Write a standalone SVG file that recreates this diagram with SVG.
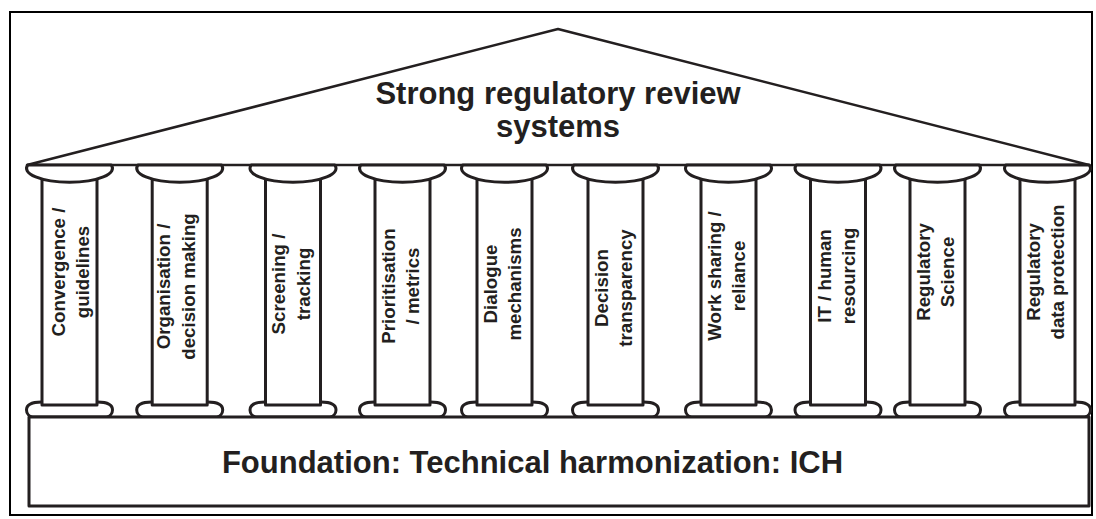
<svg xmlns="http://www.w3.org/2000/svg" width="1096" height="519" viewBox="0 0 1096 519">
<style>
.ln{fill:#fff;stroke:#231f20;stroke-width:3;stroke-linejoin:round}
.rf{fill:#fff;stroke:#231f20;stroke-width:2.5;stroke-linejoin:round}
.t{font-family:"Liberation Sans",Arial,sans-serif;font-weight:bold;fill:#231f20}
.c{font-size:18.7px}
.big{font-size:31px}
</style>
<defs>
<path id="base" class="ln" d="M-28,402 C-38,402 -43,405 -43,410 C-43,414 -40,416.5 -37,417 L37,417 C40,416.5 43,414 43,410 C43,405 38,402 28,402 Z"/>
<path id="cap" class="ln" d="M-41.8,165 A43,14 0 1 0 41.8,165 Z"/>
<rect id="shaft" class="ln" x="-27.5" y="172" width="55" height="233"/>
</defs>
<rect x="10" y="12" width="1082" height="503" fill="#fff" stroke="#000" stroke-width="2"/>
<g id="roof">
<polygon class="rf" points="27,165 558,29 1089,165"/>
<text class="t big" x="558" y="104" text-anchor="middle">Strong regulatory review</text>
<text class="t big" x="558" y="137" text-anchor="middle">systems</text>
</g>
<g id="col1" transform="translate(69.5,0)"><use href="#base"/><use href="#shaft"/><use href="#cap"/>
<text class="t c" text-anchor="middle" transform="translate(-4.5,272) rotate(-90)">Convergence /</text>
<text class="t c" text-anchor="middle" transform="translate(19,272) rotate(-90)">guidelines</text></g>
<g id="col2" transform="translate(179.7,0)"><use href="#base"/><use href="#shaft"/><use href="#cap"/>
<text class="t c" text-anchor="middle" transform="translate(-9.5,286.5) rotate(-90)">Organisation /</text>
<text class="t c" text-anchor="middle" transform="translate(15.5,286.5) rotate(-90)">decision making</text></g>
<g id="col3" transform="translate(293,0)"><use href="#base"/><use href="#shaft"/><use href="#cap"/>
<text class="t c" text-anchor="middle" transform="translate(-8,284) rotate(-90)">Screening /</text>
<text class="t c" text-anchor="middle" transform="translate(17,284) rotate(-90)">tracking</text></g>
<g id="col4" transform="translate(402.5,0)"><use href="#base"/><use href="#shaft"/><use href="#cap"/>
<text class="t c" text-anchor="middle" transform="translate(-7.5,286) rotate(-90)">Prioritisation</text>
<text class="t c" text-anchor="middle" transform="translate(16.5,286) rotate(-90)">/ metrics</text></g>
<g id="col5" transform="translate(504.5,0)"><use href="#base"/><use href="#shaft"/><use href="#cap"/>
<text class="t c" text-anchor="middle" transform="translate(-7.5,284) rotate(-90)">Dialogue</text>
<text class="t c" text-anchor="middle" transform="translate(16.5,284) rotate(-90)">mechanisms</text></g>
<g id="col6" transform="translate(615.5,0)"><use href="#base"/><use href="#shaft"/><use href="#cap"/>
<text class="t c" text-anchor="middle" transform="translate(-7.5,288) rotate(-90)">Decision</text>
<text class="t c" text-anchor="middle" transform="translate(16.5,288) rotate(-90)">transparency</text></g>
<g id="col7" transform="translate(728.5,0)"><use href="#base"/><use href="#shaft"/><use href="#cap"/>
<text class="t c" text-anchor="middle" transform="translate(-7.5,276) rotate(-90)">Work sharing /</text>
<text class="t c" text-anchor="middle" transform="translate(16.5,276) rotate(-90)">reliance</text></g>
<g id="col8" transform="translate(838,0)"><use href="#base"/><use href="#shaft"/><use href="#cap"/>
<text class="t c" text-anchor="middle" transform="translate(-7.5,276) rotate(-90)">IT / human</text>
<text class="t c" text-anchor="middle" transform="translate(16.5,276) rotate(-90)">resourcing</text></g>
<g id="col9" transform="translate(937.5,0)"><use href="#base"/><use href="#shaft"/><use href="#cap"/>
<text class="t c" text-anchor="middle" transform="translate(-7.5,272) rotate(-90)">Regulatory</text>
<text class="t c" text-anchor="middle" transform="translate(16.5,272) rotate(-90)">Science</text></g>
<g id="col10" transform="translate(1047.5,0)"><use href="#base"/><use href="#shaft"/><use href="#cap"/>
<text class="t c" text-anchor="middle" transform="translate(-7.5,272) rotate(-90)">Regulatory</text>
<text class="t c" text-anchor="middle" transform="translate(16.5,272) rotate(-90)">data protection</text></g>
<g id="foundation">
<rect class="ln" x="29" y="417" width="1060" height="89"/>
<text class="t big" x="532.5" y="473" text-anchor="middle">Foundation: Technical harmonization: ICH</text>
</g>
</svg>
